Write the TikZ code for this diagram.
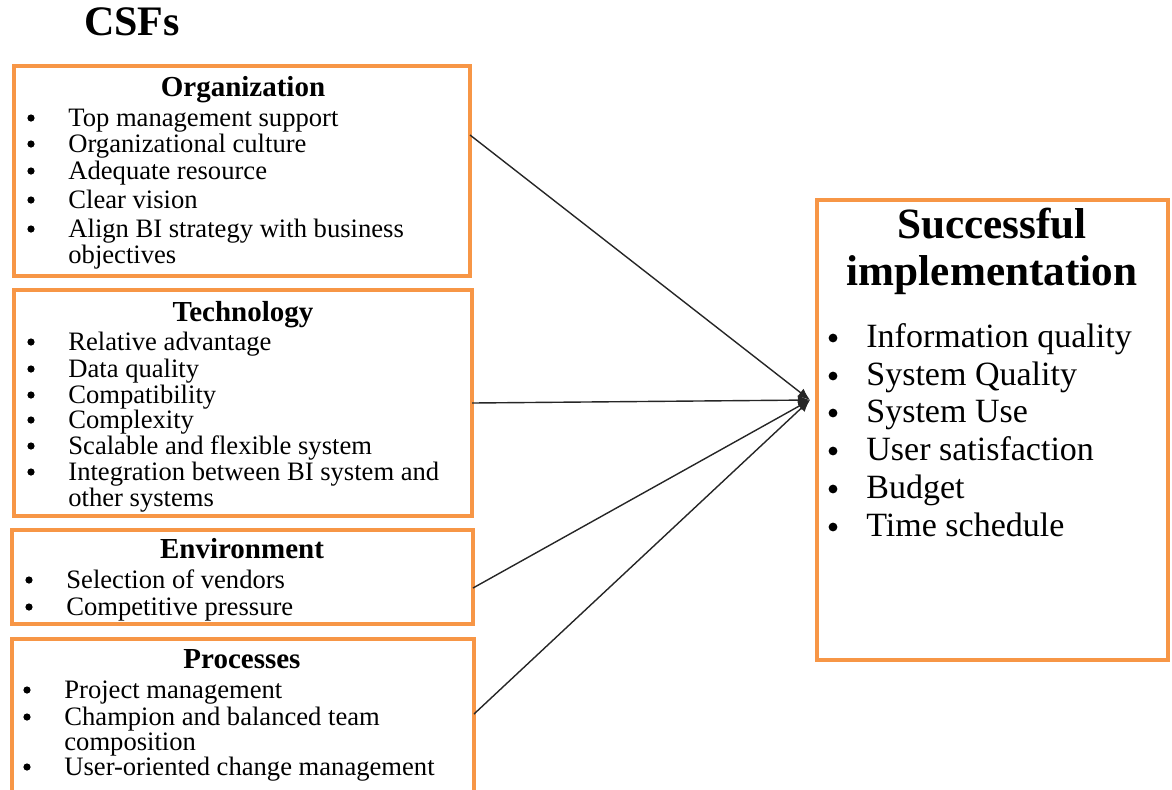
\documentclass[tikz,border=0pt]{standalone}
\usepackage{fontspec}
\setmainfont{Liberation Serif}
\usepackage{xcolor}
\usetikzlibrary{arrows.meta}
\definecolor{csforange}{RGB}{247,150,70}
% item text that wraps onto a second line, baseline on the first
\newcommand{\wrapitem}[2]{\vtop{\baselineskip=11.5pt\hbox{#1}\hbox{#2}}}
\tikzset{
  csfbox/.style={draw=csforange, line width=2pt, anchor=north west, inner sep=0pt, outer sep=0pt},
  csftitle/.style={font=\fontsize{21}{24}\selectfont\bfseries, anchor=base, inner sep=0pt},
  csfhead/.style={font=\fontsize{14.5}{17}\selectfont\bfseries, anchor=base, inner sep=0pt},
  csfitem/.style={font=\fontsize{13.3}{11.5}\selectfont, anchor=base west, inner sep=0pt},
  csfdot/.style={circle, fill=black, inner sep=0pt, minimum size=3.6pt},
  outhead/.style={font=\fontsize{21.6}{24}\selectfont\bfseries, anchor=base, inner sep=0pt},
  outitem/.style={font=\fontsize{17}{20}\selectfont, anchor=base west, inner sep=0pt},
  outdot/.style={circle, fill=black, inner sep=0pt, minimum size=4.4pt},
  csflink/.style={line width=0.7pt, draw=black!85, -{Latex[length=6pt,width=5pt]}},
}

\begin{document}
\begin{tikzpicture}[x=0.5pt,y=-0.5pt]
\useasboundingbox (0,0) rectangle (1172,789);
\clip (0,0) rectangle (1172,789);

\node[csftitle] (csfs) at (132,35) {CSFs};

% factor boxes
\node[csfbox, minimum width=228pt, minimum height=105pt] (org) at (14,66) {};
\node[csfbox, minimum width=229pt, minimum height=113pt] (tech) at (14,290) {};
\node[csfbox, minimum width=230.5pt, minimum height=47pt] (env) at (12,530) {};
\node[csfbox, minimum width=231pt, minimum height=85pt] (proc) at (12,639) {};

% organization
\node[csfhead] (orghead) at (243,96) {Organization};
\foreach \y/\t [count=\i] in {126/Top management support, 152/Organizational culture,
    179/Adequate resource, 208/Clear vision,
    237/{\wrapitem{Align BI strategy with business}{objectives}}}
{
  \node[csfdot] (orgdot-\i) at (31,\y-8) {};
  \node[csfitem] (org-\i) at (68,\y) {\t};
}

% technology
\node[csfhead] (techhead) at (243,321) {Technology};
\foreach \y/\t [count=\i] in {350/Relative advantage, 377/Data quality,
    403/Compatibility, 428/Complexity, 454/Scalable and flexible system,
    480/{\wrapitem{Integration between BI system and}{other systems}}}
{
  \node[csfdot] (techdot-\i) at (31,\y-8) {};
  \node[csfitem] (tech-\i) at (68,\y) {\t};
}

% environment
\node[csfhead] (envhead) at (242,558) {Environment};
\foreach \y/\t [count=\i] in {588/Selection of vendors, 615/Competitive pressure}
{
  \node[csfdot] (envdot-\i) at (29,\y-8) {};
  \node[csfitem] (env-\i) at (66,\y) {\t};
}

% processes
\node[csfhead] (prochead) at (242,668) {Processes};
\foreach \y/\t [count=\i] in {698/Project management,
    725/{\wrapitem{Champion and balanced team}{composition}},
    775/User-oriented change management}
{
  \node[csfdot] (procdot-\i) at (27,\y-8) {};
  \node[csfitem] (proc-\i) at (64,\y) {\t};
}

% outcome
\node[csfbox, minimum width=175.5pt, minimum height=230pt] (succ) at (817,200) {};
\node[outhead] (succhead-1) at (992,238) {Successful};
\node[outhead] (succhead-2) at (992,285) {implementation};
\foreach \y/\t [count=\i] in {347/Information quality, 385/System Quality,
    422/System Use, 460/User satisfaction, 498/Budget, 536/Time schedule}
{
  \node[outdot] (succdot-\i) at (833,\y-9) {};
  \node[outitem] (succ-\i) at (866,\y) {\t};
}

% links
\coordinate (hub) at (810,400);
\draw[csflink] ([yshift=18pt]org.east) -- (hub);
\draw[csflink] (tech.east) -- (hub);
\draw[csflink] ([yshift=-5.5pt]env.east) -- (hub);
\draw[csflink] ([yshift=5pt]proc.east) -- (hub);
\end{tikzpicture}
\end{document}
